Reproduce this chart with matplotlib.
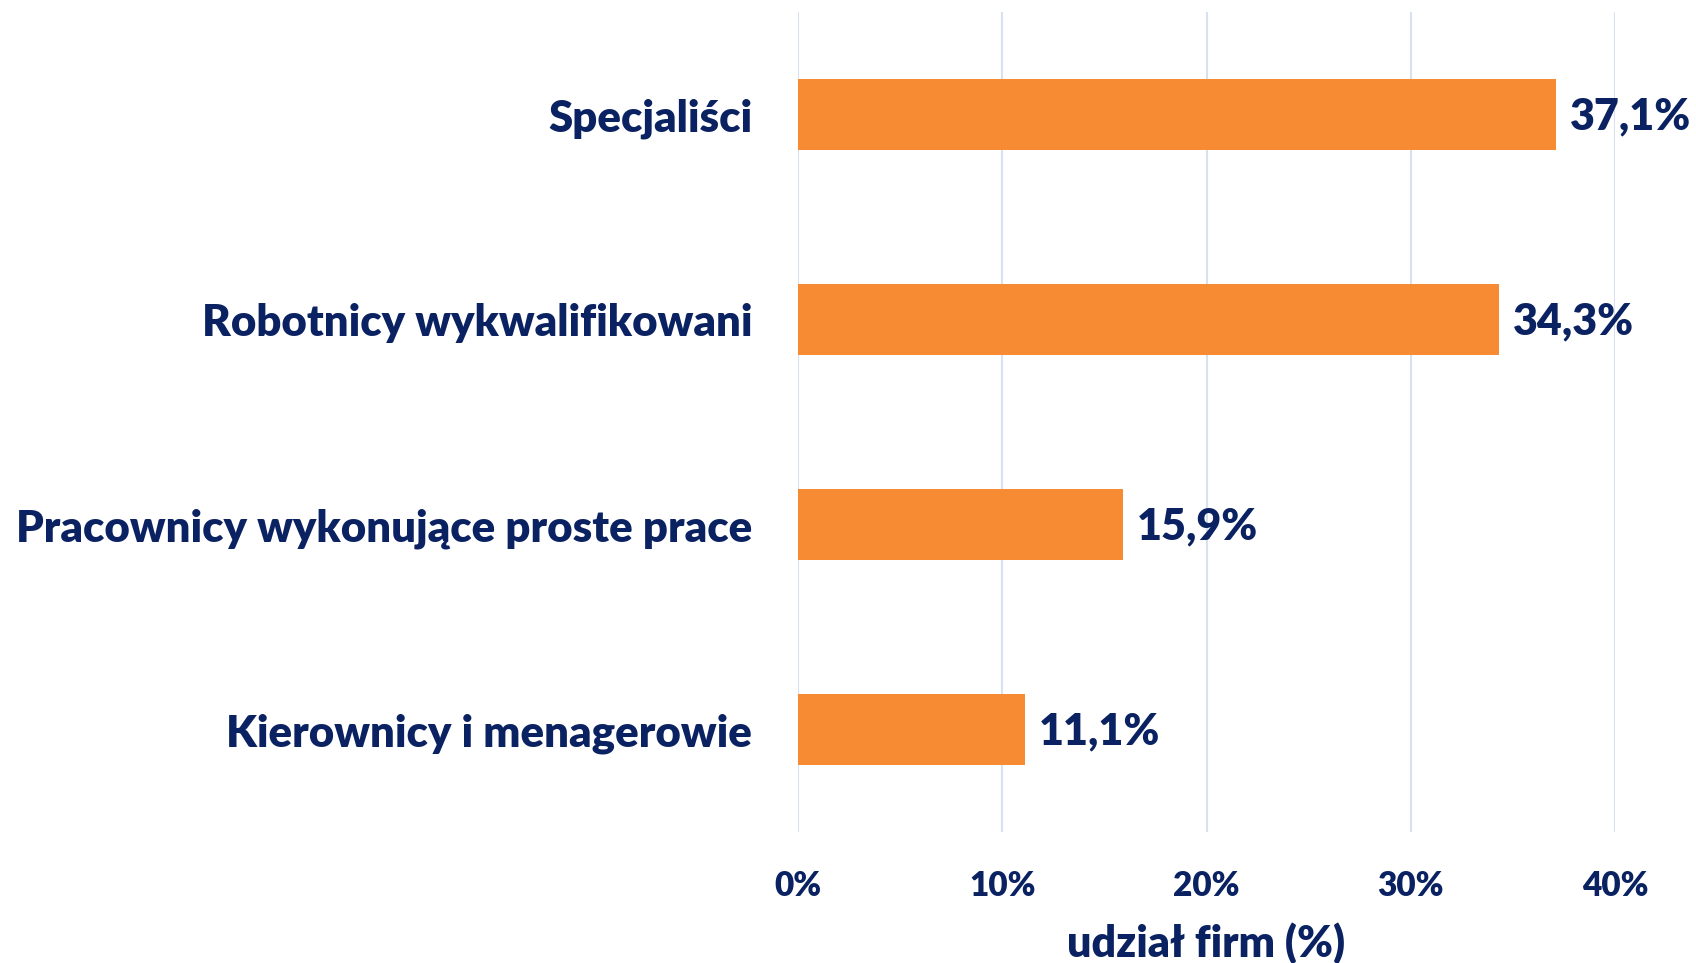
import matplotlib
matplotlib.use("Agg")
import matplotlib.pyplot as plt
from matplotlib.ticker import FuncFormatter

# dane: udział firm wg grup zawodowych
kategorie = ["Kierownicy i menagerowie",
             "Pracownicy wykonujące proste prace",
             "Robotnicy wykwalifikowani",
             "Specjaliści"]
udzial = [11.1, 15.9, 34.3, 37.1]
ticki = [0, 10, 20, 30, 40]

granat = "#0B2262"
pomarancz = "#F68B33"
siatka = "#D6E2F0"
waga = "heavy"

plt.rcParams["font.family"] = ["Lato", "DejaVu Sans"]
plt.rcParams["font.weight"] = waga

fig = plt.figure(figsize=(16.96, 9.63), dpi=100)
ax = fig.add_axes([0.4705, 0.136, 0.4818, 0.8515])

y = range(len(kategorie))
ax.barh(y, udzial, height=0.35, color=pomarancz, zorder=2)

for yi, v in zip(y, udzial):
    ax.text(v + 0.7, yi - 0.01, f"{v:.1f}%".replace(".", ","), va="center", ha="left",
            fontsize=31, fontweight=waga, color=granat, clip_on=False)

ax.set_xlim(0, 40)
ax.set_ylim(-0.5, 3.5)
ax.set_xticks(ticki)
ax.xaxis.set_major_formatter(FuncFormatter(lambda v, p: f"{v:.0f}%"))
ax.set_yticks(list(y))
ax.set_yticklabels(kategorie)

ax.tick_params(axis="y", length=0, pad=33, labelsize=31.5, labelcolor=granat)
ax.tick_params(axis="x", length=0, pad=27, labelsize=24, labelcolor=granat)
for lbl in ax.get_xticklabels() + ax.get_yticklabels():
    lbl.set_fontweight(waga)

ax.grid(axis="x", color=siatka, linewidth=1.5, zorder=0)
for s in ax.spines.values():
    s.set_visible(False)

ax.set_xlabel("udział firm (%)", fontsize=31, fontweight=waga, color=granat, labelpad=15)

fig.savefig("out.png", dpi=100)
